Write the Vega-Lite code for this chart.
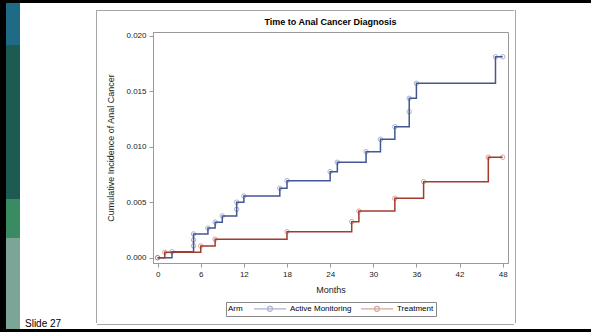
{
  "$schema": "https://vega.github.io/schema/vega-lite/v6.json",
  "background": "white",
  "padding": 0,
  "spacing": 0,
  "config": {
    "font": "Liberation Sans",
    "view": {"stroke": null},
    "axis": {"domainColor": "#999", "tickColor": "#999", "labelColor": "#222", "titleColor": "#222", "labelFontSize": 8, "titleFontSize": 9, "titleFontWeight": "normal", "tickSize": 4, "labelPadding": 3, "grid": false},
    "legend": {"layout": {"bottom": {"anchor": "middle"}}}
  },
  "resolve": {"scale": {"color": "independent"}, "legend": {"color": "independent"}},
  "vconcat": [
    {"width": 591, "height": 3, "data": {"values": []}, "mark": "point", "view": {"stroke": null, "fill": "black"}},
    {
      "spacing": 0,
      "resolve": {"scale": {"color": "independent"}, "legend": {"color": "independent"}},
      "hconcat": [
        {"width": 6, "height": 326, "data": {"values": []}, "mark": "point", "view": {"stroke": null, "fill": "black"}},
        {"spacing": 0, "vconcat": [
          {"width": 14, "height": 42, "data": {"values": []}, "mark": "point", "view": {"stroke": null, "fill": "#1f6a85"}},
          {"width": 14, "height": 154, "data": {"values": []}, "mark": "point", "view": {"stroke": null, "fill": "#1d5a52"}},
          {"width": 14, "height": 39, "data": {"values": []}, "mark": "point", "view": {"stroke": null, "fill": "#3a8b62"}},
          {"width": 14, "height": 91, "data": {"values": []}, "mark": "point", "view": {"stroke": null, "fill": "#7ba597"}}
        ]},
        {"width": 76, "height": 316, "data": {"values": []}, "mark": "point", "view": {"stroke": null},
         "title": {"text": "Slide 27", "orient": "bottom", "anchor": "start", "dx": 5, "offset": 0, "fontSize": 10, "fontWeight": "normal", "color": "#000"}},
        {"spacing": 0, "vconcat": [
          {"width": 1, "height": 7, "data": {"values": []}, "mark": "point", "view": {"stroke": null}},
          {"width": 1, "height": 313, "data": {"values": []}, "mark": "point", "view": {"stroke": null, "fill": "#a6a6a6"}}
        ]},
        {"spacing": 0,
         "resolve": {"scale": {"color": "independent"}, "legend": {"color": "independent"}},
         "vconcat": [
          {"width": 1, "height": 7, "data": {"values": []}, "mark": "point", "view": {"stroke": null}},
          {"width": 417, "height": 1, "data": {"values": []}, "mark": "point", "view": {"stroke": null, "fill": "#a6a6a6"}},
          {"width": 1, "height": 6, "data": {"values": []}, "mark": "point", "view": {"stroke": null}},
          {"spacing": 0,
           "resolve": {"scale": {"color": "independent"}, "legend": {"color": "independent"}},
           "hconcat": [
            {"width": 9, "height": 1, "data": {"values": []}, "mark": "point", "view": {"stroke": null}},
            {
              "width": 355,
              "height": 231,
              "view": {"stroke": "#999"},
              "title": {"text": "Time to Anal Cancer Diagnosis", "fontSize": 9, "fontWeight": "bold", "color": "#000", "offset": 5},
              "data": {"values": [
                {"Arm": "Active Monitoring", "Months": 0, "CI": 0},
                {"Arm": "Active Monitoring", "Months": 2, "CI": 0.00054},
                {"Arm": "Active Monitoring", "Months": 5, "CI": 0.00107},
                {"Arm": "Active Monitoring", "Months": 5, "CI": 0.0016},
                {"Arm": "Active Monitoring", "Months": 5, "CI": 0.00214},
                {"Arm": "Active Monitoring", "Months": 7, "CI": 0.00267},
                {"Arm": "Active Monitoring", "Months": 8, "CI": 0.0032},
                {"Arm": "Active Monitoring", "Months": 9, "CI": 0.00376},
                {"Arm": "Active Monitoring", "Months": 11, "CI": 0.00436},
                {"Arm": "Active Monitoring", "Months": 11, "CI": 0.005},
                {"Arm": "Active Monitoring", "Months": 12, "CI": 0.00556},
                {"Arm": "Active Monitoring", "Months": 17, "CI": 0.00625},
                {"Arm": "Active Monitoring", "Months": 18, "CI": 0.00694},
                {"Arm": "Active Monitoring", "Months": 24, "CI": 0.00775},
                {"Arm": "Active Monitoring", "Months": 25, "CI": 0.0086},
                {"Arm": "Active Monitoring", "Months": 29, "CI": 0.00955},
                {"Arm": "Active Monitoring", "Months": 31, "CI": 0.01067},
                {"Arm": "Active Monitoring", "Months": 33, "CI": 0.0118},
                {"Arm": "Active Monitoring", "Months": 35, "CI": 0.01315},
                {"Arm": "Active Monitoring", "Months": 35, "CI": 0.01436},
                {"Arm": "Active Monitoring", "Months": 36, "CI": 0.01571},
                {"Arm": "Active Monitoring", "Months": 47, "CI": 0.0181},
                {"Arm": "Active Monitoring", "Months": 48, "CI": 0.0181},
                {"Arm": "Treatment", "Months": 0, "CI": 0},
                {"Arm": "Treatment", "Months": 1, "CI": 0.00049},
                {"Arm": "Treatment", "Months": 6, "CI": 0.00105},
                {"Arm": "Treatment", "Months": 8, "CI": 0.00166},
                {"Arm": "Treatment", "Months": 18, "CI": 0.00234},
                {"Arm": "Treatment", "Months": 27, "CI": 0.00324},
                {"Arm": "Treatment", "Months": 28, "CI": 0.0042},
                {"Arm": "Treatment", "Months": 33, "CI": 0.00535},
                {"Arm": "Treatment", "Months": 37, "CI": 0.00685},
                {"Arm": "Treatment", "Months": 46, "CI": 0.00905},
                {"Arm": "Treatment", "Months": 48, "CI": 0.00905}
              ]},
              "encoding": {
                "x": {"field": "Months", "type": "quantitative", "scale": {"domain": [-0.64, 48.74], "nice": false, "zero": false},
                      "axis": {"values": [0, 6, 12, 18, 24, 30, 36, 42, 48], "title": "Months", "titlePadding": 7}},
                "y": {"field": "CI", "type": "quantitative", "scale": {"domain": [-0.000477, 0.020333], "nice": false, "zero": false},
                      "axis": {"values": [0, 0.005, 0.01, 0.015, 0.02], "format": ".3f", "title": "Cumulative Incidence of Anal Cancer", "titlePadding": 10}},
                "color": {"field": "Arm", "type": "nominal",
                  "scale": {"domain": ["Active Monitoring", "Treatment"], "range": ["#445694", "#A23A2E"]},
                  "legend": {"orient": "bottom", "direction": "horizontal", "title": "Arm", "titleOrient": "left",
                    "titleFontSize": 8, "titleFontWeight": "normal", "titleColor": "#000", "titlePadding": 10,
                    "labelFontSize": 8, "labelColor": "#000", "labelOffset": 28,
                    "symbolType": "M-1,0L8.14,0M4.29,0A0.71,0.71,0,1,1,2.86,0A0.71,0.71,0,1,1,4.29,0",
                    "symbolSize": 49, "symbolStrokeWidth": 1.2, "symbolFillColor": "transparent",
                    "columnPadding": 6, "padding": 2, "strokeColor": "#888", "offset": 8}}
              },
              "layer": [
                {"mark": {"type": "line", "interpolate": "step-after", "strokeWidth": 1.5}},
                {"mark": {"type": "point", "shape": "circle", "filled": false, "size": 20, "opacity": 0.45, "strokeWidth": 1}}
              ]
            },
            {"width": 6, "height": 1, "data": {"values": []}, "mark": "point", "view": {"stroke": null}}
          ]},
          {"width": 1, "height": 7, "data": {"values": []}, "mark": "point", "view": {"stroke": null}},
          {"width": 417, "height": 1, "data": {"values": []}, "mark": "point", "view": {"stroke": null, "fill": "#a6a6a6"}}
        ]},
        {"spacing": 0, "vconcat": [
          {"width": 1, "height": 7, "data": {"values": []}, "mark": "point", "view": {"stroke": null}},
          {"width": 1, "height": 313, "data": {"values": []}, "mark": "point", "view": {"stroke": null, "fill": "#a6a6a6"}}
        ]}
      ]
    },
    {"width": 591, "height": 3, "data": {"values": []}, "mark": "point", "view": {"stroke": null, "fill": "black"}}
  ]
}
